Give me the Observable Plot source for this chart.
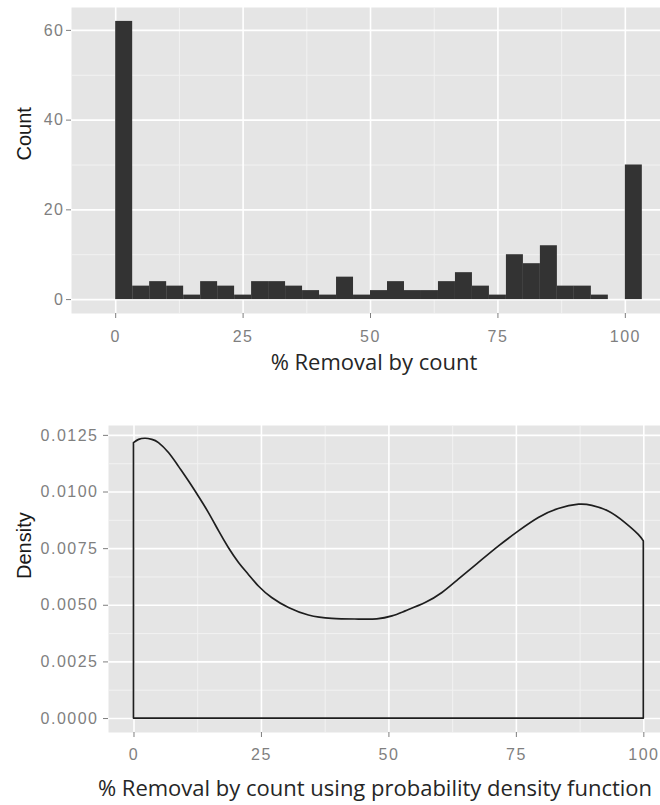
<!DOCTYPE html>
<html>
<head>
<meta charset="utf-8">
<script src="https://cdn.jsdelivr.net/npm/d3@7"></script>
<script src="https://cdn.jsdelivr.net/npm/@observablehq/plot@0.6"></script>
<style>
  body { margin: 0; background: #fff; }
  #page { position: relative; width: 660px; height: 805px; overflow: hidden; }
  #hist, #dens { position: absolute; left: 0; }
  #hist { top: 0; }
  #dens { top: 400px; }
  .xtitle {
    position: absolute;
    font-family: "Open Sans", sans-serif;
    font-size: 22px;
    line-height: 28px;
    color: #262626;
    white-space: nowrap;
    transform: translateX(-50%);
  }
  svg g[aria-label="x-axis tick label"] text,
  svg g[aria-label="y-axis tick label"] text { letter-spacing: 1.5px; }
</style>
</head>
<body>
<div id="page">
  <div id="hist"></div>
  <div class="xtitle" style="left:374px; top:347px">% Removal by count</div>
  <div id="dens"></div>
  <div class="xtitle" style="left:375px; top:773px">% Removal by count using probability density function</div>
</div>
<script>
// Histogram: counts per bin, bins of width 100/30 starting at 0
const counts = [62, 3, 4, 3, 1, 4, 3, 1, 4, 4, 3, 2, 1, 5, 1, 2, 4, 2, 2, 4, 6, 3, 1, 10, 8, 12, 3, 3, 1, 0, 30];
const binWidth = 100 / 30;

// Density curve of % removal
const densX = [0, 1.0, 2.3, 3.6, 4.9, 6.9, 8.8, 10.8, 12.7, 14.7, 16.7, 18.6, 20.6, 22.5, 24.5, 27.1, 30.4, 34.3, 38.9, 44.1, 47.7, 50.7, 53.3, 57.2, 60.5, 63.7, 67.6, 71.6, 75.5, 79.4, 83.3, 87.3, 89.9, 93.1, 96.4, 99.0, 100];
const densY = [0.01216, 0.01230, 0.01235, 0.01230, 0.01216, 0.01171, 0.01112, 0.01046, 0.00980, 0.00907, 0.00826, 0.00753, 0.00687, 0.00635, 0.00583, 0.00532, 0.00488, 0.00455, 0.00440, 0.00437, 0.00438, 0.00451, 0.00473, 0.00510, 0.00554, 0.00613, 0.00686, 0.00760, 0.00826, 0.00885, 0.00925, 0.00944, 0.00939, 0.00914, 0.00863, 0.00811, 0.00782];

// Axis breaks
const pctTicks = [0, 25, 50, 75, 100];
const pctMinor = [12.5, 37.5, 62.5, 87.5];
const countTicks = [0, 20, 40, 60];
const countMinor = [10, 30, 50];
const densTicks = [0, 0.0025, 0.005, 0.0075, 0.01, 0.0125];
const densMinor = [0.00125, 0.00375, 0.00625, 0.00875, 0.01125];

const bins = counts.map((c, i) => ({x1: i * binWidth, x2: (i + 1) * binWidth, count: c}));
const density = densX.map((x, i) => ({x, y: densY[i]}));

const panelBg = "#E5E5E5";
const minorGrid = "#F2F2F2";
const baseStyle = {
  fontFamily: "'Liberation Sans', Arial, sans-serif",
  background: "white",
  color: "#7f7f7f",
  overflow: "visible"
};

const grid = (xMajor, xMinor, yMajor, yMinor) => [
  Plot.frame({fill: panelBg, stroke: "none"}),
  Plot.ruleX(xMinor, {stroke: minorGrid, strokeWidth: 1}),
  Plot.ruleY(yMinor, {stroke: minorGrid, strokeWidth: 1}),
  Plot.ruleX(xMajor, {stroke: "white", strokeWidth: 1.6}),
  Plot.ruleY(yMajor, {stroke: "white", strokeWidth: 1.6})
];

const hist = Plot.plot({
  width: 660,
  height: 348,
  marginLeft: 71,
  marginRight: 0,
  marginTop: 7,
  marginBottom: 35,
  style: baseStyle,
  x: {domain: [-8.67, 106.9], axis: null},
  y: {domain: [-3.1, 65.1], axis: null},
  marks: [
    ...grid(pctTicks, pctMinor, countTicks, countMinor),
    Plot.rectY(bins, {x1: "x1", x2: "x2", y: "count", fill: "#333333"}),
    Plot.axisX({ticks: pctTicks, tickSize: 5, tickPadding: 12, fontSize: 16, label: null, ariaLabel: "x-axis"}),
    Plot.axisY({ticks: countTicks, tickSize: 5, tickPadding: 2, fontSize: 16, label: null, ariaLabel: "y-axis"}),
    Plot.text(["Count"], {text: d => d, frameAnchor: "left", dx: -47, rotate: -90, fontSize: 20, fill: "#1a1a1a"})
  ]
});
document.getElementById("hist").appendChild(hist);

const dens = Plot.plot({
  width: 660,
  height: 368,
  marginLeft: 108,
  marginRight: 0,
  marginTop: 25,
  marginBottom: 36,
  style: baseStyle,
  x: {domain: [-5, 103.27], axis: null},
  y: {domain: [-0.000616, 0.012936], axis: null},
  marks: [
    ...grid(pctTicks, pctMinor, densTicks, densMinor),
    Plot.areaY(density, {x: "x", y: "y", fill: "none", stroke: "#1e1e1e", strokeWidth: 1.7, curve: "natural"}),
    Plot.axisX({ticks: pctTicks, tickSize: 5, tickPadding: 11, fontSize: 16, label: null}),
    Plot.axisY({ticks: densTicks, tickSize: 5, tickPadding: 5, fontSize: 16, tickFormat: d3.format(".4f"), label: null}),
    Plot.text(["Density"], {text: d => d, frameAnchor: "left", dx: -84, rotate: -90, fontSize: 20, fill: "#1a1a1a"})
  ]
});
document.getElementById("dens").appendChild(dens);
</script>
</body>
</html>
